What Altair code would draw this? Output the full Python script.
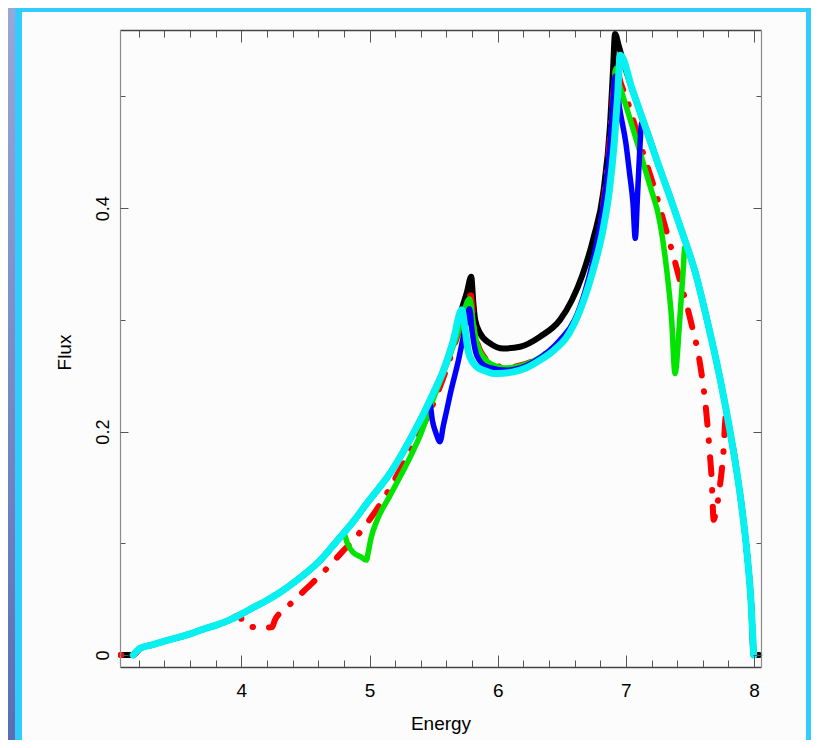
import altair as alt
import pandas as pd

# ---------------- data ----------------
CYAN_X = [3.156, 3.21, 3.30, 3.40, 3.50, 3.60, 3.70, 3.81, 3.90, 4.005, 4.10, 4.20, 4.30, 4.41, 4.51,
          4.616, 4.70, 4.797, 4.89, 4.98, 5.07, 5.156, 5.24, 5.33, 5.421, 5.50, 5.577, 5.65, 5.72,
          5.745, 5.77, 5.80, 5.837, 5.90, 5.967, 6.04, 6.12, 6.22, 6.33, 6.44, 6.54, 6.64, 6.74,
          6.82, 6.87, 6.91, 6.935, 6.956, 7.05, 7.16, 7.25, 7.344, 7.44, 7.54, 7.633, 7.737, 7.815,
          7.893, 7.945, 7.977, 7.997]
CYAN_Y = [0.000, 0.006, 0.009, 0.0125, 0.0155, 0.019, 0.023, 0.027, 0.031, 0.037, 0.043, 0.049, 0.056,
          0.065, 0.074, 0.085, 0.096, 0.109, 0.122, 0.136, 0.149, 0.162, 0.1775, 0.196, 0.216, 0.235,
          0.255, 0.280, 0.309, 0.292, 0.272, 0.263, 0.258, 0.2545, 0.252, 0.2522, 0.2535, 0.257,
          0.264, 0.273, 0.285, 0.308, 0.343, 0.380, 0.415, 0.460, 0.500, 0.537, 0.506, 0.470, 0.440,
          0.410, 0.378, 0.343, 0.300, 0.246, 0.1985, 0.142, 0.091, 0.0465, 0.0]

BLACK_X = [3.06, 3.156, 3.21, 3.30, 3.40, 3.50, 3.60, 3.70, 3.81, 3.90, 4.005, 4.10, 4.20, 4.30, 4.41,
           4.51, 4.616, 4.70, 4.797, 4.89, 4.98, 5.07, 5.156, 5.24, 5.33, 5.421, 5.50, 5.577, 5.65,
           5.72, 5.76, 5.793, 5.81, 5.824, 5.863, 5.94, 6.045, 6.175, 6.33, 6.486, 6.58, 6.66, 6.746,
           6.824, 6.876, 6.90, 6.915, 6.945, 6.97, 7.05, 7.16, 7.25, 7.344, 7.44, 7.54, 7.633, 7.737,
           7.815, 7.893, 7.945, 7.977, 7.997, 8.04]
BLACK_Y = [0.0, 0.000, 0.006, 0.009, 0.0125, 0.0155, 0.019, 0.023, 0.027, 0.031, 0.037, 0.043, 0.049,
           0.056, 0.065, 0.074, 0.085, 0.096, 0.109, 0.122, 0.136, 0.149, 0.162, 0.1775, 0.196, 0.216,
           0.235, 0.255, 0.280, 0.310, 0.325, 0.3386, 0.315, 0.300, 0.288, 0.279, 0.2744, 0.276,
           0.285, 0.300, 0.318, 0.340, 0.373, 0.4146, 0.474, 0.525, 0.556, 0.545, 0.535, 0.506,
           0.470, 0.440, 0.410, 0.378, 0.343, 0.300, 0.246, 0.1985, 0.142, 0.091, 0.0465, 0.0, 0.0]

RED_X = [3.06, 3.156, 3.21, 3.30, 3.40, 3.50, 3.60, 3.70, 3.81, 3.90, 3.995, 4.005, 4.10, 4.20, 4.24,
         4.26, 4.34, 4.43, 4.54, 4.62, 4.72, 4.80, 4.89, 4.98, 5.06, 5.136, 5.22, 5.30, 5.40, 5.50,
         5.60, 5.70, 5.79, 5.81, 5.84, 5.90, 5.97, 6.06, 6.15, 6.33, 6.54, 6.62, 6.70, 6.78, 6.84,
         6.88, 6.905, 6.92, 6.96, 7.006, 7.07, 7.149, 7.227, 7.29, 7.383, 7.42, 7.51, 7.578, 7.624,
         7.655, 7.668, 7.685, 7.70, 7.733, 7.76, 7.78, 7.815, 7.893, 7.945, 7.977, 7.997]
RED_Y = [0.0, 0.0, 0.006, 0.009, 0.0125, 0.0155, 0.019, 0.023, 0.027, 0.031, 0.036, 0.028, 0.025,
         0.0245, 0.025, 0.031, 0.041, 0.051, 0.063, 0.072, 0.084, 0.094, 0.105, 0.118, 0.131, 0.145,
         0.162, 0.179, 0.201, 0.226, 0.256, 0.291, 0.322, 0.300, 0.280, 0.266, 0.260, 0.2575, 0.2585,
         0.2665, 0.288, 0.302, 0.330, 0.372, 0.420, 0.470, 0.510, 0.528, 0.512, 0.498, 0.474, 0.444,
         0.416, 0.390, 0.352, 0.336, 0.297, 0.261, 0.221, 0.180, 0.160, 0.121, 0.127, 0.151, 0.180,
         0.214, 0.1985, 0.142, 0.091, 0.0465, 0.0]

GREEN_X = [3.156, 3.21, 3.30, 3.40, 3.50, 3.60, 3.70, 3.81, 3.90, 4.005, 4.10, 4.20, 4.30, 4.41, 4.51,
           4.616, 4.70, 4.80, 4.83, 4.87, 4.93, 4.975, 4.99, 5.01, 5.06, 5.156, 5.24, 5.32, 5.40,
           5.473, 5.54, 5.603, 5.66, 5.707, 5.78, 5.81, 5.84, 5.90, 5.967, 6.05, 6.12, 6.33, 6.54,
           6.62, 6.70, 6.78, 6.83, 6.876, 6.90, 6.923, 6.945, 6.967, 7.032, 7.11, 7.188, 7.266, 7.318,
           7.357, 7.383, 7.42, 7.447, 7.46, 7.54, 7.633, 7.737, 7.815, 7.893, 7.945, 7.977, 7.997]
GREEN_Y = [0.000, 0.006, 0.009, 0.0125, 0.0155, 0.019, 0.023, 0.027, 0.031, 0.037, 0.043, 0.049,
           0.056, 0.065, 0.074, 0.085, 0.096, 0.108, 0.099, 0.092, 0.088, 0.085, 0.092, 0.104, 0.121,
           0.142, 0.160, 0.178, 0.198, 0.222, 0.242, 0.261, 0.279, 0.294, 0.319, 0.296, 0.278, 0.265,
           0.2595, 0.257, 0.2575, 0.2665, 0.288, 0.302, 0.330, 0.370, 0.405, 0.450, 0.495, 0.525,
           0.512, 0.504, 0.480, 0.450, 0.420, 0.387, 0.345, 0.300, 0.252, 0.300, 0.345, 0.365, 0.343,
           0.300, 0.246, 0.1985, 0.142, 0.091, 0.0465, 0.0]

BLUE_X = [3.156, 3.21, 3.30, 3.40, 3.50, 3.60, 3.70, 3.81, 3.90, 4.005, 4.10, 4.20, 4.30, 4.41, 4.51,
          4.616, 4.70, 4.797, 4.89, 4.98, 5.07, 5.156, 5.24, 5.33, 5.421, 5.47, 5.49, 5.52, 5.55,
          5.575, 5.60, 5.63, 5.694, 5.746, 5.78, 5.80, 5.837, 5.915, 6.07, 6.28, 6.486, 6.60, 6.68,
          6.76, 6.82, 6.863, 6.89, 6.917, 6.95, 7.0, 7.03, 7.055, 7.073, 7.09, 7.105, 7.123, 7.16,
          7.25, 7.344, 7.44, 7.54, 7.633, 7.737, 7.815, 7.893, 7.945, 7.977, 7.997]
BLUE_Y = [0.000, 0.006, 0.009, 0.0125, 0.0155, 0.019, 0.023, 0.027, 0.031, 0.037, 0.043, 0.049, 0.056,
          0.065, 0.074, 0.085, 0.096, 0.109, 0.122, 0.136, 0.149, 0.162, 0.1775, 0.196, 0.216, 0.225,
          0.210, 0.198, 0.191, 0.205, 0.218, 0.234, 0.264, 0.293, 0.310, 0.290, 0.268, 0.258, 0.255,
          0.2625, 0.282, 0.300, 0.325, 0.362, 0.400, 0.440, 0.480, 0.518, 0.490, 0.458, 0.430, 0.405,
          0.373, 0.410, 0.445, 0.476, 0.470, 0.440, 0.410, 0.378, 0.343, 0.300, 0.246, 0.1985, 0.142,
          0.091, 0.0465, 0.0]

X_MAJOR = [4, 5, 6, 7, 8]
X_MINOR = [3.2, 3.4, 3.6, 3.8, 4.2, 4.4, 4.6, 4.8, 5.2, 5.4, 5.6, 5.8, 6.2, 6.4, 6.6, 6.8,
           7.2, 7.4, 7.6, 7.8]
Y_MAJOR = [0, 0.2, 0.4]
Y_MINOR = [0.1, 0.3, 0.5]

X_DOMAIN = [3.053, 8.054]
Y_DOMAIN = [-0.0107, 0.5595]

# ---------------- layout ----------------
W, H = 641, 637
PAD = {"left": 112, "top": 22, "right": 50, "bottom": 73}   # total 803 x 732
FONT = "Liberation Sans"
NARROW = "Liberation Sans Narrow, Liberation Sans"

xs = alt.Scale(domain=X_DOMAIN, nice=False, zero=False)
ys = alt.Scale(domain=Y_DOMAIN, nice=False, zero=False)

one = pd.DataFrame({"k": [0]})


def panel(x1, x2, y1, y2, **kw):
    return alt.Chart(one).mark_rect(**kw).encode(
        x=alt.value(x1), x2=alt.value(x2), y=alt.value(y1), y2=alt.value(y2))


bg = panel(-112, 691, -22, 710, color=alt.LinearGradient(
    gradient="linear", x1=0, y1=0, x2=1, y2=1,
    stops=[alt.GradientStop(color="#9aa7d6", offset=0),
           alt.GradientStop(color="#5a6fb2", offset=0.5),
           alt.GradientStop(color="#44579a", offset=1)]))
cyan_frame = panel(-105, 693, -26, 722, color="#33ccff", cornerRadius=6)
white = panel(-98, 686, -18, 717, color="#fcfcfd")


def line(xv, yv, color, width, dash=None, x_axis=None, y_axis=None):
    df = pd.DataFrame({"Energy": xv, "Flux": yv, "i": list(range(len(xv)))})
    kw = dict(color=color, strokeWidth=width, strokeCap="round", strokeJoin="round",
              interpolate="monotone")
    if dash is not None:
        kw["strokeDash"] = dash
    return alt.Chart(df).mark_line(**kw).encode(
        x=alt.X("Energy:Q", scale=xs, axis=x_axis),
        y=alt.Y("Flux:Q", scale=ys, axis=y_axis),
        order="i:Q",
    )


x_label_axis = alt.Axis(
    orient="bottom", values=X_MAJOR, format="d", ticks=False, tickSize=0, domain=False, grid=False,
    labelFont=NARROW, labelFontSize=19, labelColor="black", labelPadding=23, labelBaseline="middle",
    labelFlush=False, labelOverlap=False,
    title="Energy", titleFont=NARROW, titleFontSize=19, titleFontWeight="normal", titleColor="black",
    titleBaseline="middle", titleY=56, zindex=1)
y_label_axis = alt.Axis(
    orient="left", values=Y_MAJOR, format=".1~f", ticks=False, tickSize=0, domain=False, grid=False,
    labelFont=FONT, labelFontSize=18, labelColor="black", labelAngle=-90, labelAlign="center",
    labelBaseline="alphabetic", labelPadding=12, labelOverlap=False,
    title="Flux", titleFont=FONT, titleFontSize=19, titleFontWeight="normal", titleColor="black",
    titleAngle=270, titleAlign="center", titleBaseline="middle", titleX=-56, titleY=322, zindex=1)


def tick_layer(x_orient, y_orient, xvals, yvals, xsize, ysize, domain):
    dfp = pd.DataFrame({"Energy": [5.0], "Flux": [0.2]})
    xa = alt.Axis(orient=x_orient, offset=-H, values=xvals, labels=False, ticks=True, tickSize=xsize,
                  tickColor="#555555", tickWidth=1, domain=domain, domainColor="#444444",
                  domainWidth=1.6, grid=False, title=None, zindex=1)
    ya = alt.Axis(orient=y_orient, offset=-W, values=yvals, labels=False, ticks=True, tickSize=ysize,
                  tickColor="#555555", tickWidth=1, domain=domain, domainColor="#8a8a8a",
                  domainWidth=1.2, grid=False, title=None, zindex=1)
    return alt.Chart(dfp).mark_point(opacity=0).encode(
        x=alt.X("Energy:Q", scale=xs, axis=xa),
        y=alt.Y("Flux:Q", scale=ys, axis=ya))


layers = [
    bg, cyan_frame, white,
    line(BLACK_X, BLACK_Y, "#000000", 6, x_axis=x_label_axis, y_axis=y_label_axis),
    line(RED_X, RED_Y, "#ff0000", 6, dash=[0.5, 16, 17, 16]),
    line(GREEN_X, GREEN_Y, "#00e400", 5.5),
    line(BLUE_X, BLUE_Y, "#0000ff", 5.5),
    line(CYAN_X, CYAN_Y, "#08f0f0", 7),
    # inward ticks: bottom / left edges
    tick_layer("top", "right", X_MINOR, Y_MINOR, 7, 5, True),
    tick_layer("top", "right", X_MAJOR, Y_MAJOR, 12, 8, False),
    # inward ticks: top / right edges
    tick_layer("bottom", "left", X_MINOR, Y_MINOR, 7, 5, True),
    tick_layer("bottom", "left", X_MAJOR, Y_MAJOR, 12, 8, False),
]

chart = alt.layer(*layers).resolve_axis(x="independent", y="independent").properties(
    width=W, height=H,
    padding=PAD,
    autosize=alt.AutoSizeParams(type="none"),
    background="#5a6eb0",
).configure_view(stroke=None)

chart.save("out.html", embed_options={"renderer": "svg", "actions": False})
